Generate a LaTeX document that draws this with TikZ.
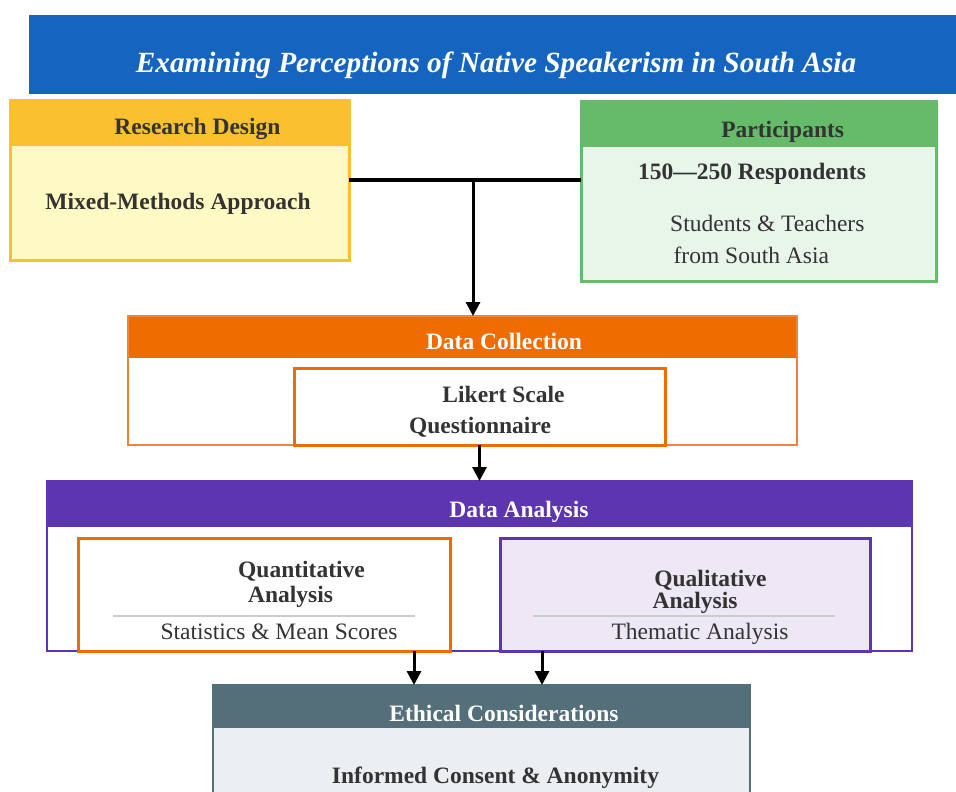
\documentclass[tikz,border=0pt]{standalone}
\usepackage{fontspec}
\setmainfont{Liberation Serif}
\usetikzlibrary{arrows.meta}
\definecolor{titleblue}{HTML}{1565C0}
\definecolor{amber}{HTML}{FBC02D}
\definecolor{amberlight}{HTML}{FFF9C4}
\definecolor{grn}{HTML}{66BB6A}
\definecolor{grnlight}{HTML}{E8F5E9}
\definecolor{orng}{HTML}{EF6C00}
\definecolor{orngline}{HTML}{F2843A}
\definecolor{purp}{HTML}{5E35B1}
\definecolor{purplight}{HTML}{EDE7F6}
\definecolor{slate}{HTML}{546E7A}
\definecolor{slatelight}{HTML}{ECEFF1}
\definecolor{txt}{HTML}{333333}
\definecolor{sepline}{HTML}{CCCCCC}
\begin{document}
\begin{tikzpicture}[x=1pt,y=-1pt,
  box/.style={rectangle, anchor=north west, inner sep=0pt, outer sep=0pt},
  hd/.style={font=\fontsize{23.5}{28}\selectfont\bfseries, anchor=base, inner sep=0pt, yshift=-1.5pt},
  tx/.style={font=\fontsize{23.5}{28}\selectfont, anchor=base, inner sep=0pt, text=txt, yshift=-1.5pt},
  conn/.style={line width=3.5pt, draw=black},
  arr/.style={line width=3pt, draw=black, -{Triangle[width=14pt,length=14pt]}}
]
\useasboundingbox (0,0) rectangle (956,792);
\clip (0,0) rectangle (956,792);

% title
\node[box, minimum width=940pt, minimum height=79pt, fill=titleblue] (tb) at (29,15) {};
\node[anchor=base, inner sep=0pt, text=white, font=\fontsize{29.3}{34}\selectfont\bfseries\itshape] (title) at (496,72.5) {Examining Perceptions of Native Speakerism in South Asia};

% research design
\node[box, minimum width=339pt, minimum height=160pt, fill=amberlight] (rd) at (10,100) {};
\fill[amber] (rd.north west) rectangle ([yshift=-46pt]rd.north east);
\draw[amber, line width=3pt] (rd.north west) rectangle (rd.south east);
\node[hd, text=txt] (rdh) at (197.5,133) {Research Design};
\node[hd, text=txt] (rdt) at (178,207.5) {Mixed-Methods Approach};

% participants
\node[box, minimum width=355pt, minimum height=180pt, fill=grnlight] (pt) at (581,101) {};
\fill[grn] (pt.north west) rectangle ([yshift=-46pt]pt.north east);
\draw[grn, line width=3pt] (pt.north west) rectangle (pt.south east);
\node[hd, text=txt] (pth) at (782.7,136) {Participants};
\node[hd, text=txt] (pt1) at (752,177.7) {150—250 Respondents};
\node[tx] (pt2) at (767.3,230) {Students \& Teachers};
\node[tx] (pt3) at (751.3,261.7) {from South Asia};

% data collection
\node[box, minimum width=669pt, minimum height=129pt, fill=white] (dc) at (128,316) {};
\fill[orng] (dc.north west) rectangle ([yshift=-42pt]dc.north east);
\draw[orngline, line width=2pt] (dc.north west) rectangle (dc.south east);
\node[hd, text=white] (dch) at (504,348) {Data Collection};
\node[box, minimum width=371pt, minimum height=77pt, fill=white, draw=orng, line width=3pt] (lk) at (294,368) {};
\node[hd, text=txt] (lk1) at (503.5,400.7) {Likert Scale};
\node[hd, text=txt] (lk2) at (480,431.7) {Questionnaire};

% data analysis
\node[box, minimum width=865pt, minimum height=170pt, fill=white] (da) at (47,481) {};
\fill[purp] (da.north west) rectangle ([yshift=-46pt]da.north east);
\draw[purp, line width=2pt] (da.north west) rectangle (da.south east);
\node[hd, text=white] (dah) at (519,515.7) {Data Analysis};

\node[box, minimum width=372pt, minimum height=113pt, fill=white, draw=orng, line width=3pt] (qn) at (78,538) {};
\node[hd, text=txt] (qn1) at (301.5,575.7) {Quantitative};
\node[hd, text=txt] (qn2) at (290.5,600.7) {Analysis};
\draw[sepline, line width=1.5pt] (113,616) -- (415,616);
\node[tx] (qn3) at (279,638.3) {Statistics \& Mean Scores};

\node[box, minimum width=370pt, minimum height=113pt, fill=purplight, draw=purp, line width=3pt] (ql) at (500,538) {};
\node[hd, text=txt] (ql1) at (710.5,585) {Qualitative};
\node[hd, text=txt] (ql2) at (695,606.7) {Analysis};
\draw[sepline, line width=1.5pt] (533,616) -- (835,616);
\node[tx] (ql3) at (700,638.3) {Thematic Analysis};

% ethical considerations
\node[box, minimum width=537pt, minimum height=130pt, fill=slatelight] (ec) at (213,685) {};
\fill[slate] (ec.north west) rectangle ([yshift=-43pt]ec.north east);
\draw[slate, line width=1.5pt] (ec.north west) rectangle (ec.south east);
\node[hd, text=white] (ech) at (504,720) {Ethical Considerations};
\node[hd, text=txt] (ect) at (495.5,781.7) {Informed Consent \& Anonymity};

% connectors
\draw[conn] (rd.east) -- (rd.east -| pt.west);
\coordinate (j) at (473,180);
\draw[arr] (j) -- (j |- dc.north);
\draw[arr] (lk.south) -- (lk.south |- da.north);
\coordinate (q1) at (414,651);
\coordinate (q2) at (542,651);
\draw[arr] (q1) -- (q1 |- ec.north);
\draw[arr] (q2) -- (q2 |- ec.north);
\end{tikzpicture}
\end{document}
